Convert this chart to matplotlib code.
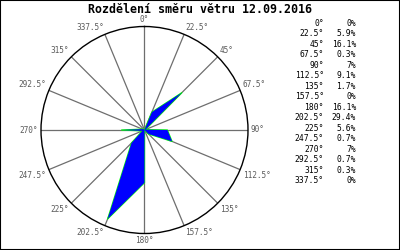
import numpy as np
import matplotlib
matplotlib.use('Agg')
import matplotlib.pyplot as plt
from matplotlib.patches import Rectangle

# direction labels and share of time (%)
directions = [0, 22.5, 45, 67.5, 90, 112.5, 135, 157.5,
              180, 202.5, 225, 247.5, 270, 292.5, 315, 337.5]
dir_labels = ['0°', '22.5°', '45°', '67.5°', '90°', '112.5°', '135°', '157.5°',
              '180°', '202.5°', '225°', '247.5°', '270°', '292.5°', '315°', '337.5°']
percents = [0, 5.9, 16.1, 0.3, 7, 9.1, 1.7, 0,
            16.1, 29.4, 5.6, 0.7, 7, 0.7, 0.3, 0]
pct_labels = ['0%', '5.9%', '16.1%', '0.3%', '7%', '9.1%', '1.7%', '0%',
              '16.1%', '29.4%', '5.6%', '0.7%', '7%', '0.7%', '0.3%', '0%']
title = 'Rozdělení směru větru 12.09.2016'

mono = 'DejaVu Sans Mono'
fig = plt.figure(figsize=(4, 2.5), dpi=100)
fig.patches.append(Rectangle((0, 0), 1, 1, transform=fig.transFigure,
                             fill=False, edgecolor='black', linewidth=1.5))

ax = fig.add_axes([0.1025, 0.066, 0.5175, 0.828], projection='polar')
ax.set_theta_zero_location('N')
ax.set_theta_direction(-1)
rmax = max(percents) * 1.075
ax.set_ylim(0, rmax)
ax.set_xticks([])
ax.set_yticks([])
ax.grid(False)
ax.spines['polar'].set_linewidth(1)
ax.spines['polar'].set_color('black')

theta = np.deg2rad(directions)
for th in theta:
    ax.plot([th, th], [0, rmax], color='#6e6e6e', lw=0.9, zorder=1)

# wind rose polygon
th_c = np.append(theta, theta[0])
r_c = np.append(percents, percents[0])
ax.plot(th_c, r_c, color='#00ff00', lw=0.9, zorder=2)
ax.fill(th_c, r_c, color='#0000ff', lw=0, zorder=3)

# angle labels around circle
for d, th, lbl in zip(directions, theta, dir_labels):
    s, c = np.sin(th), np.cos(th)
    ha = 'center' if abs(s) < 0.1 else ('left' if s > 0 else 'right')
    va = 'center' if abs(c) < 0.1 else ('bottom' if c > 0 else 'top')
    ax.annotate(lbl, xy=(th, rmax), xytext=(2.0 * s, 2.0 * c),
                textcoords='offset points', ha=ha, va=va,
                fontsize=5.6, family=mono, color='#5a5a5a',
                annotation_clip=False)

fig.text(0.5, 0.963, title, ha='center', va='center', fontsize=8.4,
         family=mono, fontweight='bold')

# table at right
y0 = 1 - 23.3 / 250
dy = 10.5 / 250
for i, (a, p) in enumerate(zip(dir_labels, pct_labels)):
    y = y0 - i * dy
    fig.text(324 / 400, y, a, ha='right', va='center', fontsize=5.8, family=mono)
    fig.text(356 / 400, y, p, ha='right', va='center', fontsize=5.8, family=mono)

fig.savefig('out.png', dpi=100)
